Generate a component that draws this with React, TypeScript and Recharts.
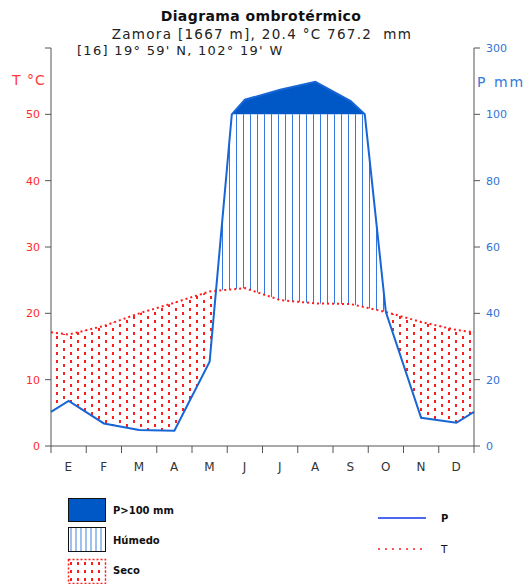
import React from 'react';
import { ComposedChart, Area, Line, XAxis, YAxis } from 'recharts';

// Zamora, monthly means
const MONTHS = ['E', 'F', 'M', 'A', 'M', 'J', 'J', 'A', 'S', 'O', 'N', 'D'];
const TEMP = [16.8, 18.1, 20.0, 21.6, 23.3, 23.8, 22.0, 21.5, 21.4, 20.2, 18.7, 17.5];
const PREC = [13.6, 6.8, 4.8, 4.6, 25.4, 144, 174, 198, 140, 40.4, 8.5, 7.0];
const T_TICKS = [0, 10, 20, 30, 40, 50, 60];
const MONTH_TICKS = [0, 1, 2, 3, 4, 5, 6, 7, 8, 9, 10, 11, 12];

const W = 528;
const H = 584;
const PLOT_W = 423;
const FONT = '"DejaVu Sans", sans-serif';
const BLUE = '#0058c6';
const LINE_BLUE = '#1766d6';
const RED = '#ff1c1c';
const AXIS = '#555';

// Walter-Lieth scale: 2 mm per degree up to 100 mm, 20 mm per degree above
const toScale = (p: number) => (p <= 100 ? p / 2 : 50 + (p - 100) / 20);
const lerp = (a: number, b: number, f: number) => a + (b - a) * f;

type Pt = { x: number; t: number; p: number };

function buildRows() {
  const n = MONTHS.length;
  const pts: Pt[] = [
    { x: 0, t: (TEMP[n - 1] + TEMP[0]) / 2, p: (PREC[n - 1] + PREC[0]) / 2 },
    ...MONTHS.map((_, i) => ({ x: i + 0.5, t: TEMP[i], p: PREC[i] })),
    { x: n, t: (TEMP[n - 1] + TEMP[0]) / 2, p: (PREC[n - 1] + PREC[0]) / 2 },
  ];
  // break segments where precipitation crosses 100 mm (scale change)
  const a: Pt[] = [];
  pts.forEach((r, i) => {
    a.push(r);
    const nx = pts[i + 1];
    if (nx && (r.p - 100) * (nx.p - 100) < 0) {
      const f = (100 - r.p) / (nx.p - r.p);
      a.push({ x: lerp(r.x, nx.x, f), t: lerp(r.t, nx.t, f), p: 100 });
    }
  });
  const d = a.map((r) => ({ x: r.x, t: r.t, p: toScale(r.p) }));
  // break segments where P and T curves cross
  const b: Pt[] = [];
  d.forEach((r, i) => {
    b.push(r);
    const nx = d[i + 1];
    if (nx && (r.p - r.t) * (nx.p - nx.t) < 0) {
      const f = (r.t - r.p) / (nx.p - r.p - (nx.t - r.t));
      const t = lerp(r.t, nx.t, f);
      b.push({ x: lerp(r.x, nx.x, f), t, p: t });
    }
  });
  return b.map((r) => ({
    x: r.x,
    t: r.t,
    p: r.p,
    dry: r.t >= r.p ? [r.p, r.t] : [r.p, r.p],
    wet: r.p >= r.t ? [r.t, Math.min(r.p, 50)] : [r.t, r.t],
    high: r.p > 50 ? [50, r.p] : [50, 50],
  }));
}

const rows = buildRows();

const MonthTick = (props: any) => {
  const { x, y, payload } = props;
  const v = payload.value as number;
  return (
    <g>
      <line x1={x} y1={y} x2={x} y2={y + 7} stroke={AXIS} strokeWidth={1} />
      {v < MONTHS.length && (
        <text x={x + PLOT_W / 24} y={y + 25} textAnchor="middle" fontSize={12} fontFamily={FONT} fill="#333" letterSpacing={0.5}>
          {MONTHS[v]}
        </text>
      )}
    </g>
  );
};

const Overlay = () => (
  <svg width={W} height={H} style={{ position: 'absolute', left: 0, top: 0, pointerEvents: 'none' }}>
    <defs>
      <pattern id="wetLeg" patternUnits="userSpaceOnUse" width={5} height={10} x={69}>
        <line x1={2} y1={0} x2={2} y2={10} stroke="#3f83e0" strokeWidth={1} />
      </pattern>
      <pattern id="dryLeg" patternUnits="userSpaceOnUse" width={7} height={8} x={68} y={561}>
        <rect x={2} y={1} width={2} height={3} fill={RED} />
      </pattern>
    </defs>
    <text x={261} y={21} textAnchor="middle" fontSize={14} fontWeight="600" fontFamily={FONT} fill="#111" letterSpacing={0.4}>
      Diagrama ombrotérmico
    </text>
    <text x={262} y={38.5} textAnchor="middle" fontSize={13.5} fontFamily={FONT} fill="#222" letterSpacing={1.3}>
      {'Zamora [1667 m], 20.4 °C 767.2\u00a0\u00a0mm'}
    </text>
    <text x={77} y={55} fontSize={13} fontFamily={FONT} fill="#222" letterSpacing={1.3}>
      [16] 19° 59' N, 102° 19' W
    </text>
    <text x={12} y={85} fontSize={14} fontFamily={FONT} fill="#ff3a3a" letterSpacing={1}>
      T °C
    </text>
    <text x={477} y={87} fontSize={14} fontFamily={FONT} fill="#3579d8" letterSpacing={2}>
      P mm
    </text>

    <rect x={68.5} y={498.5} width={37} height={23} fill={BLUE} stroke="#111" strokeWidth={1} />
    <text x={113} y={514} fontSize={10} fontWeight="bold" fontFamily={FONT} fill="#111">
      P&gt;100 mm
    </text>
    <rect x={68.5} y={527.5} width={37} height={24} fill="url(#wetLeg)" stroke="#111" strokeWidth={1} />
    <text x={113} y={544} fontSize={10} fontWeight="bold" fontFamily={FONT} fill="#111">
      Húmedo
    </text>
    <rect x={68.5} y={559.5} width={37} height={24} fill="url(#dryLeg)" stroke={RED} strokeWidth={1.5} strokeDasharray="2 2" />
    <text x={113} y={574} fontSize={10} fontWeight="bold" fontFamily={FONT} fill="#111">
      Seco
    </text>

    <line x1={378} y1={518} x2={426} y2={518} stroke="#1236e8" strokeWidth={1.5} />
    <text x={441} y={522} fontSize={10} fontWeight="bold" fontFamily={FONT} fill="#111">
      P
    </text>
    <line x1={378} y1={549} x2={424} y2={549} stroke={RED} strokeWidth={1.5} strokeDasharray="2 5" />
    <text x={441} y={553} fontSize={10.5} fontFamily={FONT} fill="#111">
      T
    </text>
  </svg>
);

export default function App() {
  return (
    <div style={{ position: 'absolute', left: 0, top: 0, width: W, height: H, background: '#fff' }}>
      <ComposedChart width={W} height={H} data={rows} margin={{ top: 48, right: 14, bottom: 108, left: 11 }}>
        <defs>
          <pattern id="dryFill" patternUnits="userSpaceOnUse" width={14} height={8}>
            <rect x={0} y={0} width={2} height={3} fill={RED} />
            <rect x={7} y={4} width={2} height={3} fill={RED} />
          </pattern>
          <pattern id="wetFill" patternUnits="userSpaceOnUse" width={7} height={10} x={2}>
            <line x1={3.5} y1={0} x2={3.5} y2={10} stroke="#3579de" strokeWidth={1} />
          </pattern>
        </defs>
        <XAxis
          dataKey="x"
          type="number"
          domain={[0, 12]}
          ticks={MONTH_TICKS}
          tickLine={false}
          tickSize={0}
          tickMargin={0}
          tick={<MonthTick />}
          axisLine={{ stroke: AXIS }}
          height={30}
          interval={0}
        />
        <YAxis
          yAxisId="l"
          domain={[0, 60]}
          ticks={T_TICKS}
          width={40}
          tickSize={6}
          tickMargin={5}
          axisLine={{ stroke: AXIS }}
          tickLine={{ stroke: AXIS }}
          tick={{ fill: '#ff2a2a', fontSize: 11, fontFamily: FONT }}
          tickFormatter={(v: number) => (v > 50 ? ' ' : String(v))}
          interval={0}
        />
        <YAxis
          yAxisId="r"
          orientation="right"
          domain={[0, 60]}
          ticks={T_TICKS}
          width={40}
          tickSize={6}
          tickMargin={6}
          axisLine={{ stroke: AXIS }}
          tickLine={{ stroke: AXIS }}
          tick={{ fill: '#2f74d6', fontSize: 11, fontFamily: FONT }}
          tickFormatter={(v: number) => (v > 50 ? '300' : String(v * 2))}
          interval={0}
        />
        <Area yAxisId="l" type="linear" dataKey="dry" stroke="none" fill="url(#dryFill)" fillOpacity={1} isAnimationActive={false} dot={false} activeDot={false} />
        <Area yAxisId="l" type="linear" dataKey="wet" stroke="none" fill="url(#wetFill)" fillOpacity={1} isAnimationActive={false} dot={false} activeDot={false} />
        <Area yAxisId="l" type="linear" dataKey="high" stroke="none" fill={BLUE} fillOpacity={1} isAnimationActive={false} dot={false} activeDot={false} />
        <Line yAxisId="l" type="linear" dataKey="t" stroke={RED} strokeWidth={2} strokeDasharray="2 3" dot={false} activeDot={false} isAnimationActive={false} />
        <Line yAxisId="l" type="linear" dataKey="p" stroke={LINE_BLUE} strokeWidth={2} dot={false} activeDot={false} isAnimationActive={false} />
        <Line yAxisId="r" type="linear" dataKey="p" stroke="none" strokeWidth={0} dot={false} activeDot={false} isAnimationActive={false} legendType="none" />
      </ComposedChart>
      <Overlay />
    </div>
  );
}
